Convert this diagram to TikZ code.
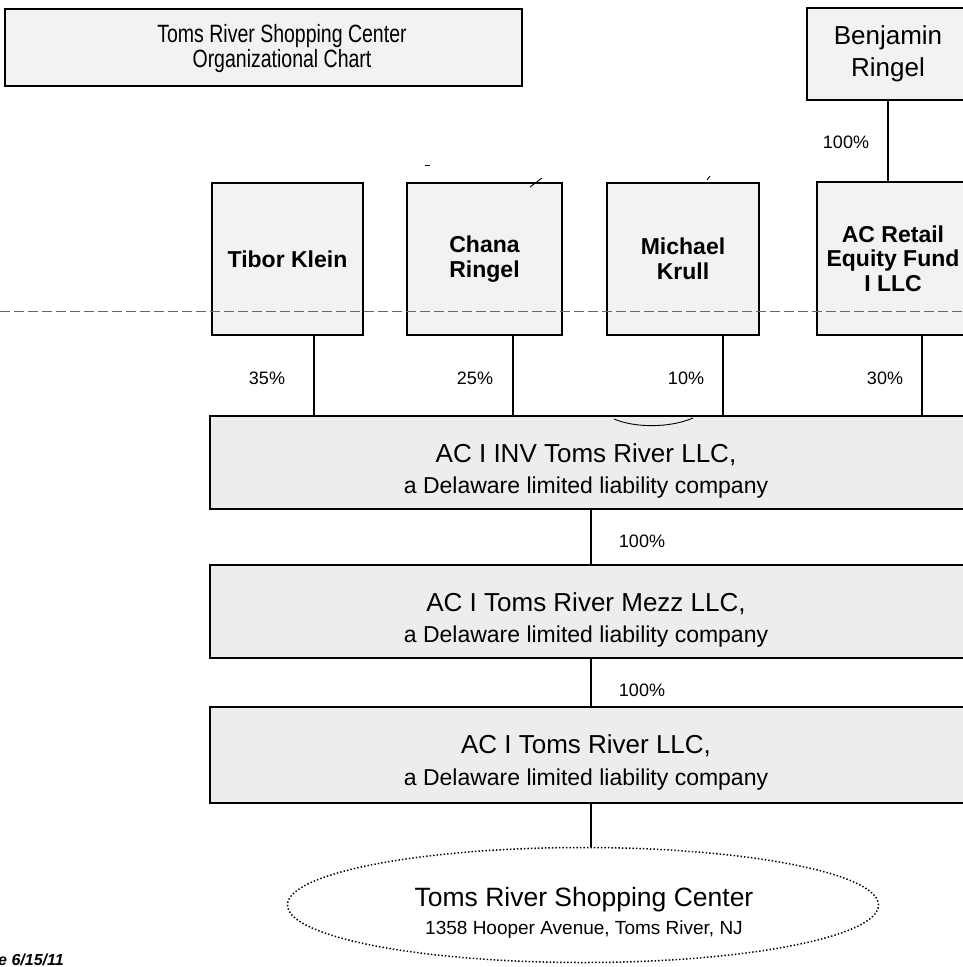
\documentclass[tikz,border=0pt]{standalone}
\usepackage{fontspec}
\setmainfont{Liberation Sans}
\usetikzlibrary{shapes.geometric}
\begin{document}
\begin{tikzpicture}[x=1pt,y=-1pt,
  box/.style={draw=black, line width=1.8pt, fill=black!5, anchor=north west, inner sep=0pt, outer sep=0pt, align=center},
  namebox/.style={box, font=\fontsize{23}{24.5}\selectfont\bfseries},
  mainbox/.style={box, fill=black!7, minimum width=757pt, minimum height=93pt},
  maintext/.style={font=\fontsize{26}{28}\selectfont, anchor=base, inner sep=0pt},
  subtext/.style={font=\fontsize{23}{25}\selectfont, anchor=base, inner sep=0pt},
  pct/.style={font=\fontsize{18}{20}\selectfont, inner sep=0pt},
  link/.style={line width=1.2pt},
  penmark/.style={line width=0.9pt}
]
\useasboundingbox (0,0) rectangle (963,967);
\begin{scope}
\clip (0,0) rectangle (963,967);

% title
\node[box, minimum width=517pt, minimum height=77pt] (title) at (5,9) {};
\node[font=\fontsize{25}{27}\selectfont, anchor=base, inner sep=0pt] (title1) at (282,42) {\scalebox{0.78}[1]{Toms River Shopping Center}};
\node[font=\fontsize{25}{27}\selectfont, anchor=base, inner sep=0pt] (title2) at (282,67) {\scalebox{0.78}[1]{Organizational Chart}};

% Benjamin
\node[box, font=\fontsize{26}{32}\selectfont, minimum width=162pt, minimum height=92pt] (ben) at (807,8) {Benjamin\\Ringel};

% owners
\node[namebox, minimum width=151pt, minimum height=152pt] (tibor) at (212,183) {Tibor Klein};
\node[namebox, minimum width=155pt, minimum height=152pt] (chana) at (407,183) {Chana\\Ringel};
\node[namebox, minimum width=152pt, minimum height=152pt] (krull) at (607,183) {Michael\\Krull};
\node[namebox, minimum width=152pt, minimum height=153pt] (fund) at (817,182) {AC Retail\\Equity Fund\\I LLC};

% companies
\node[mainbox] (inv) at (210,416) {};
\node[maintext] (inv1) at (586,462) {AC I INV Toms River LLC,};
\node[subtext] (inv2) at (586,493) {a Delaware limited liability company};

\node[mainbox] (mezz) at (210,565) {};
\node[maintext] (mezz1) at (586,611) {AC I Toms River Mezz LLC,};
\node[subtext] (mezz2) at (586,642) {a Delaware limited liability company};

\node[mainbox, minimum height=96pt] (trllc) at (210,707) {};
\node[maintext] (trllc1) at (586,753) {AC I Toms River LLC,};
\node[subtext] (trllc2) at (586,785) {a Delaware limited liability company};

% property
\node[draw, ellipse, line width=1.5pt, dash pattern=on 1.4pt off 2.1pt, minimum width=591pt, minimum height=115pt, inner sep=0pt] (center) at (583,905) {};
\node[font=\fontsize{26.5}{28}\selectfont, anchor=base, inner sep=0pt] (center1) at (584,906) {Toms River Shopping Center};
\node[font=\fontsize{19}{21}\selectfont, anchor=base, inner sep=0pt] (center2) at (584,934) {1358 Hooper Avenue, Toms River, NJ};

% connectors
\draw[link] (888,0 |- ben.south) -- (888,0 |- fund.north);
\draw[link] (314,0 |- tibor.south) -- (314,0 |- inv.north);
\draw[link] (513,0 |- chana.south) -- (513,0 |- inv.north);
\draw[link] (723,0 |- krull.south) -- (723,0 |- inv.north);
\draw[link] (922,0 |- fund.south) -- (922,0 |- inv.north);
\draw[link] (591,0 |- inv.south) -- (591,0 |- mezz.north);
\draw[link] (591,0 |- mezz.south) -- (591,0 |- trllc.north);
\draw[link] (591,0 |- trllc.south) -- (591,0 |- center.north);

% percentages
\node[pct] (p0) at (846,142) {100\%};
\node[pct] (p1) at (267,378) {35\%};
\node[pct] (p2) at (475,378) {25\%};
\node[pct] (p3) at (686,378) {10\%};
\node[pct] (p4) at (885,378) {30\%};
\node[pct] (p5) at (642,541) {100\%};
\node[pct] (p6) at (642,690) {100\%};

% dashed guide line
\coordinate (dl) at (0,311);
\coordinate (dr) at (963,311);
\draw[black!60, line width=0.8pt, dash pattern=on 10pt off 4pt] (dl) -- (dr);

% stray pen marks
\draw[penmark] (614,419) .. controls (635,428) and (670,428) .. (693,418);
\draw[penmark] (530,187) -- (542,178);
\draw[penmark] (707,180) -- (710,176);
\draw[penmark] (425,165) -- (430,165);

% date
\node[anchor=base west, inner sep=0pt, font=\fontsize{16}{18}\selectfont\bfseries\itshape] (date) at (-2,965) {e 6/15/11};
\end{scope}
\end{tikzpicture}
\end{document}
